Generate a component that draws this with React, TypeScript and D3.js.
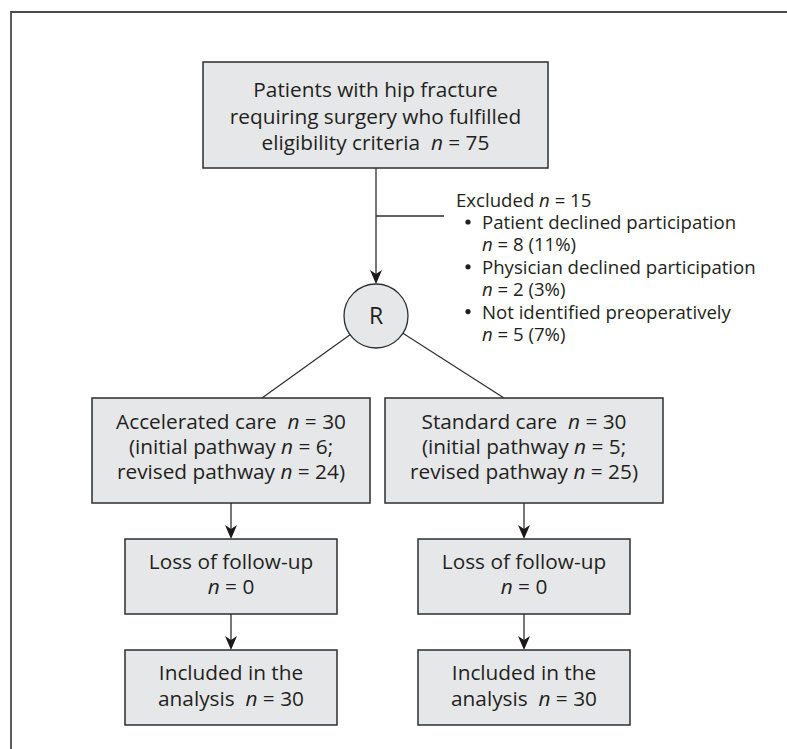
import React, { useEffect, useRef } from 'react';
import * as d3 from 'd3';

// numbers in the flow
const eligibleN = 75;
const excludedN = 15;
const exclusionReasons = ['Patient declined participation', 'Physician declined participation', 'Not identified preoperatively'];
const exclusionCounts = [8, 2, 5];
const exclusionPercents = [11, 3, 7];
const arms = ['Accelerated care', 'Standard care'];
const armCounts = [30, 30];
const initialCounts = [6, 5];
const revisedCounts = [24, 25];
const lossCounts = [0, 0];
const analysedCounts = [30, 30];

const width = 787;
const height = 749;
const font = '"Open Sans", "Noto Sans", sans-serif';
const boxFont = 20.8;
const listFont = 18.6;
const fill = '#e6e7e8';
const stroke = '#2e2e2e';
const ink = '#231f20';

// one <text> per block, one tspan row per line; "*n*" marks an italic n
function writeLines(g, lines, cx, cy, size, lineH, anchor = 'middle', xs = null) {
    const y0 = cy - (lines.length - 1) * lineH / 2;
    const t = g.append('text')
        .attr('text-anchor', anchor)
        .attr('font-family', font)
        .attr('font-size', size)
        .attr('fill', ink)
        .style('white-space', 'pre');
    lines.forEach((line, i) => {
        const parts = line.split(/(\*n\*)/).filter(s => s.length);
        parts.forEach((part, j) => {
            const span = t.append('tspan');
            if (j === 0) {
                span.attr('x', xs ? xs[i] : cx).attr('y', y0 + i * lineH).attr('dy', '0.36em');
            }
            if (part === '*n*') span.attr('font-style', 'italic').text('n');
            else span.text(part);
        });
    });
}

function drawBox(g, x0, y0, w, h, lines, lineH, shift = 0) {
    g.append('rect')
        .attr('x', x0).attr('y', y0)
        .attr('width', w).attr('height', h)
        .attr('fill', fill)
        .attr('stroke', stroke)
        .attr('stroke-width', 1.5);
    writeLines(g, lines, x0 + w / 2, y0 + h / 2 + shift, boxFont, lineH);
}

function drawArrow(g, x, yFrom, yTip) {
    g.append('line')
        .attr('x1', x).attr('x2', x)
        .attr('y1', yFrom).attr('y2', yTip - 8)
        .attr('stroke', stroke).attr('stroke-width', 1.3);
    g.append('path')
        .attr('d', `M${x},${yTip} L${x - 6},${yTip - 14} L${x},${yTip - 10} L${x + 6},${yTip - 14} Z`)
        .attr('fill', '#1a1a1a');
}

export default function App() {
    const svgRef = useRef(null);

    useEffect(() => {
        document.body.style.margin = '0';
        const svg = d3.select(svgRef.current);
        svg.selectAll('*').remove();
        const g = svg.append('g');

        // frame, cut at right and bottom
        g.append('path')
            .attr('d', `M11,${height + 5} V12 H${width + 5}`)
            .attr('fill', 'none')
            .attr('stroke', '#4a4a4a')
            .attr('stroke-width', 1.8);

        const colX = d3.scaleOrdinal<string, number>().domain(arms).range([231, 524]);
        const topX = 376;

        // eligible box
        drawBox(g, 203, 62, 345, 106, [
            'Patients with hip fracture',
            'requiring surgery who fulfilled',
            `eligibility criteria  *n* = ${eligibleN}`
        ], 26.5, 1.5);

        // down to randomisation
        const rC = { x: topX, y: 316, r: 32 };
        drawArrow(g, topX, 168, rC.y - rC.r);

        // exclusion branch
        g.append('line')
            .attr('x1', topX).attr('x2', 444)
            .attr('y1', 216).attr('y2', 216)
            .attr('stroke', stroke).attr('stroke-width', 1.5);

        const listLines = [`Excluded *n* = ${excludedN}`];
        const listXs = [456];
        exclusionReasons.forEach((reason, i) => {
            listLines.push(reason, `*n* = ${exclusionCounts[i]} (${exclusionPercents[i]}%)`);
            listXs.push(482, 482);
            g.append('circle')
                .attr('cx', 468).attr('cy', 222 + i * 44.8).attr('r', 2.6)
                .attr('fill', ink);
        });
        const lh = 22.4;
        writeLines(g, listLines, 0, 200 + (listLines.length - 1) * lh / 2, listFont, lh, 'start', listXs);

        // diagonals out of the R circle
        const armTop = 398;
        const targets = [262, 504];
        targets.forEach(tx => {
            const a = Math.atan2(armTop - rC.y, tx - rC.x);
            g.append('line')
                .attr('x1', rC.x + rC.r * Math.cos(a))
                .attr('y1', rC.y + rC.r * Math.sin(a))
                .attr('x2', tx).attr('y2', armTop)
                .attr('stroke', stroke).attr('stroke-width', 1.2);
        });

        g.append('circle')
            .attr('cx', rC.x).attr('cy', rC.y).attr('r', rC.r)
            .attr('fill', fill).attr('stroke', stroke).attr('stroke-width', 1.3);
        writeLines(g, ['R'], rC.x, rC.y, 23, 20);

        // two arms
        arms.forEach((arm, i) => {
            const cx = colX(arm);
            drawBox(g, cx - 139, armTop, 278, 105, [
                `${arm}  *n* = ${armCounts[i]}`,
                `(initial pathway *n* = ${initialCounts[i]};`,
                `revised pathway *n* = ${revisedCounts[i]})`
            ], 25, -4);
            drawArrow(g, cx, 503, 539);
            drawBox(g, cx - 106, 539, 212, 75, [
                'Loss of follow-up',
                `*n* = ${lossCounts[i]}`
            ], 25, -2);
            drawArrow(g, cx, 614, 650);
            drawBox(g, cx - 106, 650, 212, 75, [
                'Included in the',
                `analysis  *n* = ${analysedCounts[i]}`
            ], 26, -1.5);
        });
    }, []);

    return (
        <svg ref={svgRef} width={width} height={height} style={{ display: 'block', background: '#fff' }}></svg>
    );
}
